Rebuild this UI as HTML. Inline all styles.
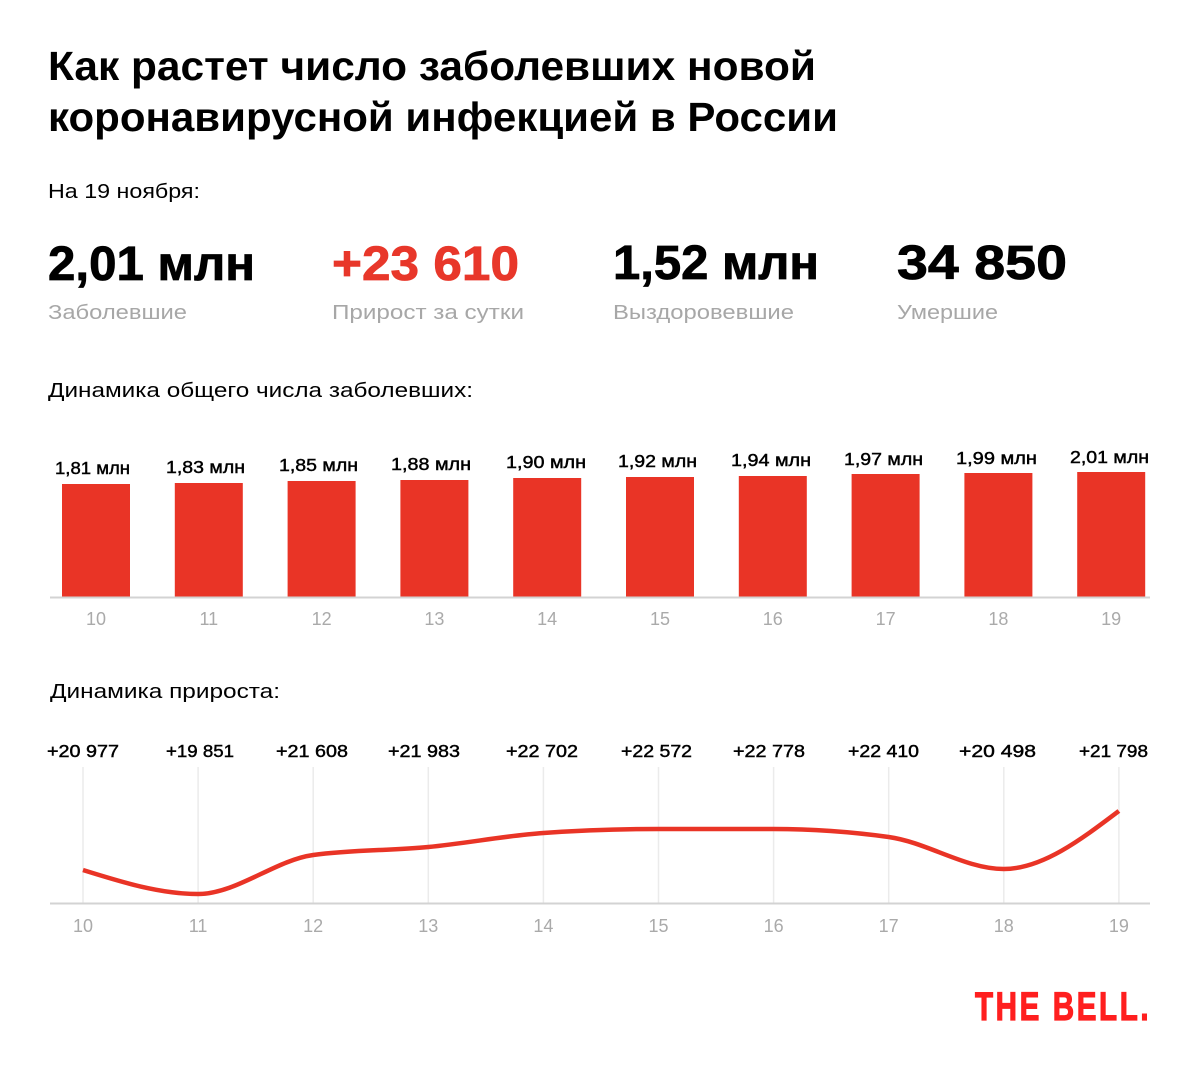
<!DOCTYPE html>
<html>
<head>
<meta charset="utf-8">
<style>
html,body{margin:0;padding:0;background:#fff;}
svg{display:block;}
text{font-family:"Liberation Sans","Noto Sans CJK SC",sans-serif;}
</style>
</head>
<body>
<svg width="1200" height="1081" viewBox="0 0 1200 1081" xmlns="http://www.w3.org/2000/svg">
<rect width="1200" height="1081" fill="#fff"/>

<!-- Title -->
<text x="48" y="80" font-size="41" font-weight="bold" fill="#000" textLength="768" lengthAdjust="spacingAndGlyphs">Как растет число заболевших новой</text>
<text x="48" y="131" font-size="41" font-weight="bold" fill="#000" textLength="790" lengthAdjust="spacingAndGlyphs">коронавирусной инфекцией в России</text>

<text x="48" y="198" font-size="20" fill="#000" textLength="152" lengthAdjust="spacingAndGlyphs">На 19 ноября:</text>

<!-- Stats -->
<g font-size="48" font-weight="bold" stroke-width="0.8">
<text x="48" y="280" fill="#000" stroke="#000" textLength="207" lengthAdjust="spacingAndGlyphs">2,01 млн</text>
<text x="332" y="280" fill="#E8372A" stroke="#E8372A" textLength="187" lengthAdjust="spacingAndGlyphs">+23 610</text>
<text x="613" y="279" fill="#000" stroke="#000" textLength="206" lengthAdjust="spacingAndGlyphs">1,52 млн</text>
<text x="897" y="279" fill="#000" stroke="#000" textLength="170" lengthAdjust="spacingAndGlyphs">34 850</text>
</g>
<g font-size="20" fill="#a7a7a7">
<text x="48" y="319" textLength="139" lengthAdjust="spacingAndGlyphs">Заболевшие</text>
<text x="332" y="319" textLength="192" lengthAdjust="spacingAndGlyphs">Прирост за сутки</text>
<text x="613" y="319" textLength="181" lengthAdjust="spacingAndGlyphs">Выздоровевшие</text>
<text x="897" y="319" textLength="101" lengthAdjust="spacingAndGlyphs">Умершие</text>
</g>

<!-- Bar chart -->
<text x="48" y="397" font-size="20" fill="#000" textLength="425" lengthAdjust="spacingAndGlyphs">Динамика общего числа заболевших:</text>

<g fill="#E93426">
<rect x="62" y="484" width="68" height="113"/>
<rect x="174.8" y="483" width="68" height="114"/>
<rect x="287.6" y="481" width="68" height="116"/>
<rect x="400.4" y="480" width="68" height="117"/>
<rect x="513.2" y="478" width="68" height="119"/>
<rect x="626" y="477" width="68" height="120"/>
<rect x="738.8" y="476" width="68" height="121"/>
<rect x="851.6" y="474" width="68" height="123"/>
<rect x="964.4" y="473" width="68" height="124"/>
<rect x="1077.2" y="472" width="68" height="125"/>
</g>
<line x1="50" y1="597.5" x2="1150" y2="597.5" stroke="#d3d3d3" stroke-width="2"/>

<g font-size="17.5" fill="#000" stroke="#000" stroke-width="0.45">
<text x="55" y="474" textLength="75" lengthAdjust="spacingAndGlyphs">1,81 млн</text>
<text x="166" y="473" textLength="79" lengthAdjust="spacingAndGlyphs">1,83 млн</text>
<text x="279" y="471" textLength="79" lengthAdjust="spacingAndGlyphs">1,85 млн</text>
<text x="391" y="470" textLength="80" lengthAdjust="spacingAndGlyphs">1,88 млн</text>
<text x="506" y="468" textLength="80" lengthAdjust="spacingAndGlyphs">1,90 млн</text>
<text x="618" y="467" textLength="79" lengthAdjust="spacingAndGlyphs">1,92 млн</text>
<text x="731" y="466" textLength="80" lengthAdjust="spacingAndGlyphs">1,94 млн</text>
<text x="844" y="465" textLength="79" lengthAdjust="spacingAndGlyphs">1,97 млн</text>
<text x="956" y="464" textLength="81" lengthAdjust="spacingAndGlyphs">1,99 млн</text>
<text x="1070" y="463" textLength="79" lengthAdjust="spacingAndGlyphs">2,01 млн</text>
</g>

<g font-size="18" fill="#aaa" text-anchor="middle">
<text x="96" y="625">10</text>
<text x="208.8" y="625">11</text>
<text x="321.6" y="625">12</text>
<text x="434.4" y="625">13</text>
<text x="547.2" y="625">14</text>
<text x="660" y="625">15</text>
<text x="772.8" y="625">16</text>
<text x="885.6" y="625">17</text>
<text x="998.4" y="625">18</text>
<text x="1111.2" y="625">19</text>
</g>

<!-- Line chart -->
<text x="50" y="698" font-size="20" fill="#000" textLength="230" lengthAdjust="spacingAndGlyphs">Динамика прироста:</text>

<g font-size="17.5" fill="#000" stroke="#000" stroke-width="0.45">
<text x="47" y="757" textLength="72" lengthAdjust="spacingAndGlyphs">+20 977</text>
<text x="166" y="757" textLength="68" lengthAdjust="spacingAndGlyphs">+19 851</text>
<text x="276" y="757" textLength="72" lengthAdjust="spacingAndGlyphs">+21 608</text>
<text x="388" y="757" textLength="72" lengthAdjust="spacingAndGlyphs">+21 983</text>
<text x="506" y="757" textLength="72" lengthAdjust="spacingAndGlyphs">+22 702</text>
<text x="621" y="757" textLength="71" lengthAdjust="spacingAndGlyphs">+22 572</text>
<text x="733" y="757" textLength="72" lengthAdjust="spacingAndGlyphs">+22 778</text>
<text x="848" y="757" textLength="71" lengthAdjust="spacingAndGlyphs">+22 410</text>
<text x="959" y="757" textLength="77" lengthAdjust="spacingAndGlyphs">+20 498</text>
<text x="1079" y="757" textLength="69" lengthAdjust="spacingAndGlyphs">+21 798</text>
</g>

<g stroke="#ebebeb" stroke-width="1.5">
<line x1="83" y1="767" x2="83" y2="903"/>
<line x1="198.1" y1="767" x2="198.1" y2="903"/>
<line x1="313.2" y1="767" x2="313.2" y2="903"/>
<line x1="428.3" y1="767" x2="428.3" y2="903"/>
<line x1="543.4" y1="767" x2="543.4" y2="903"/>
<line x1="658.5" y1="767" x2="658.5" y2="903"/>
<line x1="773.6" y1="767" x2="773.6" y2="903"/>
<line x1="888.7" y1="767" x2="888.7" y2="903"/>
<line x1="1003.8" y1="767" x2="1003.8" y2="903"/>
<line x1="1118.9" y1="767" x2="1118.9" y2="903"/>
</g>
<line x1="50" y1="903.5" x2="1150" y2="903.5" stroke="#d3d3d3" stroke-width="2"/>

<path d="M83,870 C121.4,882 159.7,894 198.1,894 C236.5,894 274.8,860.3 313.2,855 C351.6,849.7 389.9,850.7 428.3,847 C466.7,843.3 505,835.7 543.4,833 C581.8,830.3 620.1,829 658.5,829 C696.9,829 735.2,829 773.6,829 C812,829 850.3,831.7 888.7,837 C927.1,842.3 965.4,869 1003.8,869 C1042.2,869 1080.5,840 1118.9,811" fill="none" stroke="#E93426" stroke-width="4.5"/>

<g font-size="18" fill="#aaa" text-anchor="middle">
<text x="83" y="932">10</text>
<text x="198.1" y="932">11</text>
<text x="313.2" y="932">12</text>
<text x="428.3" y="932">13</text>
<text x="543.4" y="932">14</text>
<text x="658.5" y="932">15</text>
<text x="773.6" y="932">16</text>
<text x="888.7" y="932">17</text>
<text x="1003.8" y="932">18</text>
<text x="1118.9" y="932">19</text>
</g>

<!-- Logo -->
<g transform="translate(975,1020) scale(0.74,1)">
<text x="0" y="0" font-size="40" font-weight="bold" fill="#FF1F1F" stroke="#FF1F1F" stroke-width="1.2" letter-spacing="3.5">THE BELL.</text>
</g>
</svg>
</body>
</html>
